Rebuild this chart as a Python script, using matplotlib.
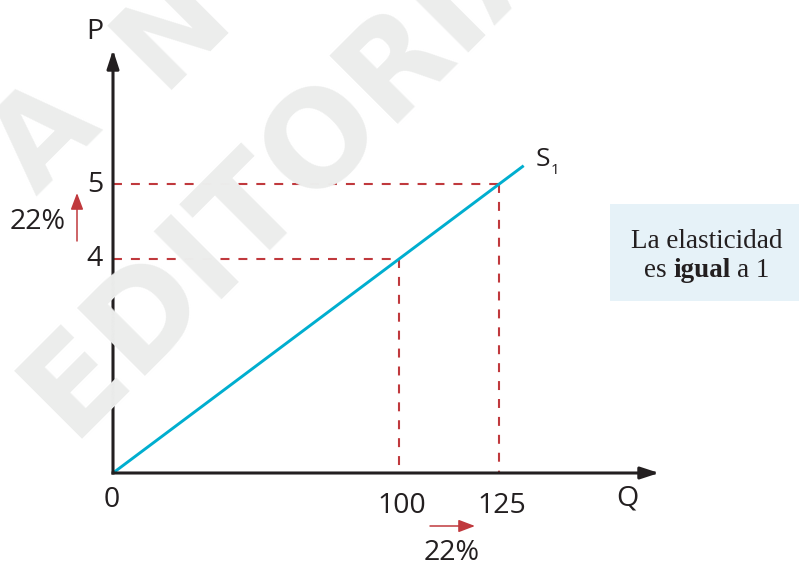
import numpy as np
import matplotlib
matplotlib.use("Agg")
import matplotlib.pyplot as plt
from matplotlib.transforms import IdentityTransform
from matplotlib.patches import Rectangle

W, H, DPI = 799, 563, 100

# ---- data -------------------------------------------------------------
supply_q = [0, 100, 125, 131]          # S1 passes through the origin
supply_p = [0, 4, 5, 5.24]
mark_q = [100, 125]                    # quantities marked on the curve
mark_p = [4, 5]                        # matching prices
q_tick_labels = ["100", "125"]
p_tick_labels = ["4", "5"]
pct_change = "22%"
note_line1 = "La elasticidad"
note_line2 = [("es", "normal"), ("igual", "bold"), ("a 1", "normal")]
watermark_word = "EDITORIAL"
watermark_letters = ["A", "N"]

# ---- style ------------------------------------------------------------
BLACK = "#231f20"
BLUE = "#00aecf"
RED = "#c0393d"
BOX = "#e6f2f8"
WM = "#ecedec"
SANS = "Open Sans"
SERIF = "Liberation Serif"
FS = 20.5

# schematic power scale used on both axes (keeps S1 straight)
K = 1.34


def fwd(v):
    v = np.asarray(v, dtype=float)
    return np.sign(v) * np.abs(v) ** K


def inv(v):
    v = np.asarray(v, dtype=float)
    return np.sign(v) * np.abs(v) ** (1.0 / K)


# layout in pixels (y measured from the top)
ORIGIN_X, ORIGIN_Y = 113, 473
x_unit = 286 / fwd(100)
y_unit = 214 / fwd(4)
q_axis_end = float(inv((659 - ORIGIN_X) / x_unit))
p_axis_end = float(inv((ORIGIN_Y - 50) / y_unit))

fig = plt.figure(figsize=(W / DPI, H / DPI), dpi=DPI)
fig.patch.set_facecolor("white")
ID = IdentityTransform()


def px(x, y_top):
    return x, H - y_top


# background watermark
wm = dict(rotation=45, rotation_mode="anchor", ha="left", va="baseline",
          fontweight="bold", family="DejaVu Sans", color=WM,
          transform=ID, zorder=0)
for letter, pos in zip(watermark_letters, [(37, 197), (161, 90)]):
    fig.text(*px(*pos), letter, fontsize=89, **wm)
fig.text(*px(71, 439), watermark_word, fontsize=94, **wm)

ax = fig.add_axes([0, 0, 1, 1])
ax.set_axis_off()
ax.set_xscale("function", functions=(fwd, inv))
ax.set_yscale("function", functions=(fwd, inv))
ax.set_xlim(float(inv(-ORIGIN_X / x_unit)), float(inv((W - ORIGIN_X) / x_unit)))
ax.set_ylim(float(inv(-(H - ORIGIN_Y) / y_unit)), float(inv(ORIGIN_Y / y_unit)))

# axes with arrow heads
axis_kw = dict(arrowstyle="-|>,head_length=1.1,head_width=0.36", mutation_scale=10,
               color=BLACK, lw=2.2, shrinkA=0, shrinkB=0)
for tip in [(0, p_axis_end), (q_axis_end, 0)]:
    a = ax.annotate("", xy=tip, xytext=(0, 0), arrowprops=axis_kw, zorder=5)
    a.arrow_patch.set_capstyle("projecting")

# dashed guides
for q, p in zip(mark_q, mark_p):
    ax.plot([0, q], [p, p], color=RED, lw=1.5, dashes=(4.3, 4.3), zorder=2)
    ax.plot([q, q], [p, 0], color=RED, lw=1.5, dashes=(4.3, 4.3), zorder=2)

# supply curve
ax.plot(supply_q, supply_p, color=BLUE, lw=2.1, solid_capstyle="butt", zorder=3)

txt = dict(family=SANS, fontsize=FS, color=BLACK, va="baseline")
for p, lab in zip(mark_p, p_tick_labels):
    ax.annotate(lab, xy=(0, p), xytext=(-18, -7.3), textcoords="offset pixels",
                ha="center", **txt)
for q, lab in zip(mark_q, q_tick_labels):
    ax.annotate(lab, xy=(q, 0), xytext=(3, -40), textcoords="offset pixels",
                ha="center", **txt)
ax.annotate("0", xy=(0, 0), xytext=(-1.5, -34), textcoords="offset pixels",
            ha="center", **txt)

# curve label S1
ax.annotate("S", xy=(supply_q[-1], supply_p[-1]), xytext=(19, 0),
            textcoords="offset pixels", ha="center", family=SANS, fontsize=19,
            color=BLACK, va="baseline")
ax.annotate("1", xy=(supply_q[-1], supply_p[-1]), xytext=(31, -8.3),
            textcoords="offset pixels", ha="center", family=SANS, fontsize=11,
            color=BLACK, va="baseline")

# axis names
fig.text(*px(94.5, 39), "P", ha="center", transform=ID, **txt)
fig.text(*px(627.5, 505), "Q", ha="center", transform=ID, **txt)

# percentage changes
small_kw = dict(arrowstyle="-|>,head_length=1.0,head_width=0.38", mutation_scale=10,
                color=RED, lw=1.1, shrinkA=0, shrinkB=0)
ax.annotate("", xy=px(77, 193), xytext=px(77, 241), xycoords=ID, textcoords=ID,
            arrowprops=small_kw)
ax.annotate("", xy=px(475, 526), xytext=px(430, 526), xycoords=ID, textcoords=ID,
            arrowprops=small_kw)
fig.text(*px(38, 229), pct_change, ha="center", transform=ID, **txt)
fig.text(*px(451.5, 560), pct_change, ha="center", transform=ID, **txt)

# note box
fig.patches.append(Rectangle(px(610, 301), W - 610, 97, transform=ID,
                             facecolor=BOX, edgecolor="none", zorder=1))
serif = dict(family=SERIF, fontsize=19.5, color=BLACK, va="baseline")
fig.text(*px(706.5, 247.7), note_line1, ha="center", transform=ID, **serif)

renderer = fig.canvas.get_renderer()
pieces = [fig.text(0, 0, s, fontweight=w, ha="left", transform=ID, **serif)
          for s, w in note_line2]
widths = [t.get_window_extent(renderer).width for t in pieces]
space = 0.25 * 19.5 * DPI / 72
x0 = 706.5 - (sum(widths) + space * (len(widths) - 1)) / 2
for t, w in zip(pieces, widths):
    t.set_position(px(x0, 276.7))
    x0 += w + space

fig.savefig("out.png", dpi=DPI)
